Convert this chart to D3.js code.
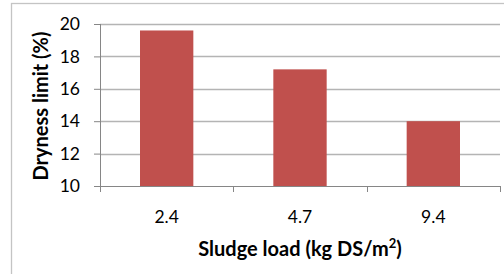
<!DOCTYPE html>
<html>
<head>
<meta charset="utf-8">
<script src="https://cdn.jsdelivr.net/npm/d3@7"></script>
<style>
  html, body { margin: 0; padding: 0; background: #fff; }
  svg { display: block; }
</style>
</head>
<body>
<div id="chart"></div>
<script>
// ── Data ─────────────────────────────────────────────────────
const categories = ['2.4', '4.7', '9.4'];
const dryness    = [19.6, 17.2, 14.0];
const yTicks     = [10, 12, 14, 16, 18, 20];

const W = 504, H = 274;
const margin = { top: 24, right: 4, bottom: 88, left: 100 };
const innerW = W - margin.left - margin.right;
const innerH = H - margin.top - margin.bottom;
const FONT = 'Lato, "Open Sans", sans-serif';

const svg = d3.select('#chart').append('svg')
  .attr('width', W).attr('height', H);

// chart frame (only top and left edges show)
svg.append('rect')
  .attr('x', 11.5).attr('y', 3.5)
  .attr('width', 600).attr('height', 400)
  .attr('fill', 'none')
  .attr('stroke', '#c4c4c4')
  .attr('stroke-width', 1.3);

const g = svg.append('g')
  .attr('transform', `translate(${margin.left},${margin.top})`);

// ── Scales ───────────────────────────────────────────────────
const x = d3.scaleBand().domain(categories).range([0, innerW]).paddingInner(0.6).paddingOuter(0.3);
const xTickScale = d3.scaleLinear().domain([0, categories.length]).range([0, innerW]);
const y = d3.scaleLinear().domain([10, 20]).range([innerH, 0]);

// ── Grid ─────────────────────────────────────────────────────
g.append('g')
  .selectAll('line')
  .data(yTicks.slice(1))
  .join('line')
  .attr('x1', 0).attr('x2', innerW)
  .attr('y1', d => Math.round(y(d)) + 0.5)
  .attr('y2', d => Math.round(y(d)) + 0.5)
  .attr('stroke', '#b4b4b4')
  .attr('stroke-width', 1.3);

// ── Bars ─────────────────────────────────────────────────────
g.append('g')
  .selectAll('rect')
  .data(categories)
  .join('rect')
  .attr('x', d => x(d))
  .attr('width', x.bandwidth())
  .attr('y', (d, i) => y(dryness[i]))
  .attr('height', (d, i) => innerH - y(dryness[i]))
  .attr('fill', '#c0504d');

// ── Axes ─────────────────────────────────────────────────────
const yAxis = g.append('g')
  .call(d3.axisLeft(y).tickValues(yTicks).tickSize(6).tickPadding(14))
  .call(ax => ax.selectAll('text')
    .attr('font-family', FONT).attr('font-size', 17.5).attr('fill', '#000'));
yAxis.select('.domain').attr('stroke', '#868686').attr('d', `M0.5,0V${innerH}`);
yAxis.selectAll('.tick line').attr('stroke', '#868686');

const xAxis = g.append('g')
  .attr('transform', `translate(0,${innerH})`);
xAxis.append('line')
  .attr('x1', 0).attr('x2', innerW).attr('y1', 0.5).attr('y2', 0.5)
  .attr('stroke', '#868686');
xAxis.selectAll('.xt')
  .data(d3.range(categories.length + 1))
  .join('line')
  .attr('class', 'xt')
  .attr('x1', d => Math.round(xTickScale(d)) + 0.5)
  .attr('x2', d => Math.round(xTickScale(d)) + 0.5)
  .attr('y1', 0).attr('y2', 6)
  .attr('stroke', '#868686');
xAxis.selectAll('.xl')
  .data(categories)
  .join('text')
  .attr('class', 'xl')
  .attr('x', d => x(d) + x.bandwidth() / 2)
  .attr('y', 37)
  .attr('text-anchor', 'middle')
  .attr('font-family', FONT).attr('font-size', 17.5)
  .text(d => d);

// ── Axis titles ──────────────────────────────────────────────
svg.append('text')
  .attr('x', margin.left + innerW / 2)
  .attr('y', 256)
  .attr('text-anchor', 'middle')
  .attr('font-family', FONT).attr('font-size', 20).attr('font-weight', 700)
  .html('Sludge load (kg DS/m<tspan font-size="13" dy="-8">2</tspan><tspan dy="8">)</tspan>');

svg.append('text')
  .attr('transform', `translate(47.5,106) rotate(-90)`)
  .attr('text-anchor', 'middle')
  .attr('font-family', FONT).attr('font-size', 20).attr('font-weight', 700)
  .text('Dryness limit (%)');
</script>
</body>
</html>
